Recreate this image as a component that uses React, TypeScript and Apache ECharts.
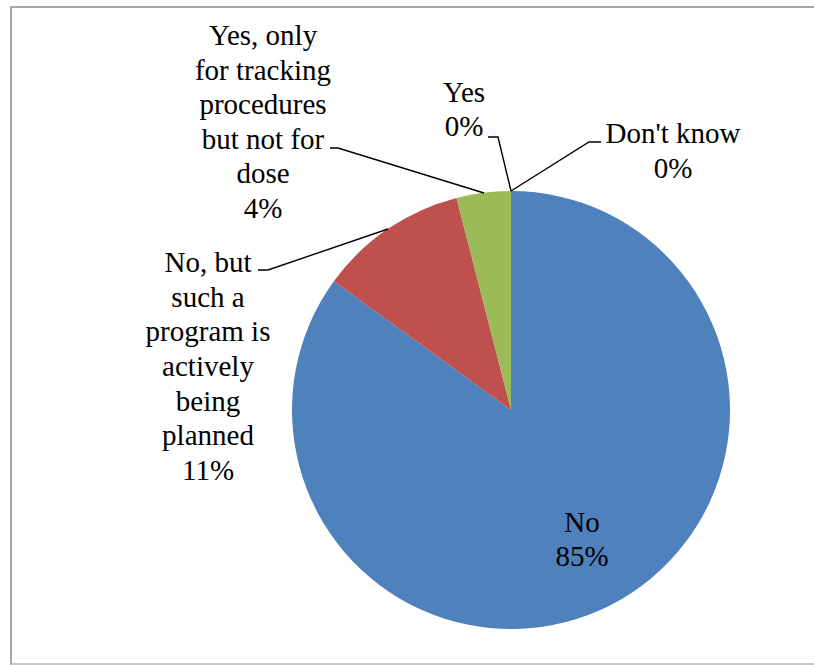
import React, { useEffect, useRef } from "react";
import * as echarts from "echarts";

const categories = [
  "Don't know",
  "No",
  "No, but such a program is actively being planned",
  "Yes, only for tracking procedures but not for dose",
  "Yes",
];
const wrappedNames = [
  ["Don't know"],
  ["No"],
  ["No, but", "such a", "program is", "actively", "being", "planned"],
  ["Yes, only", "for tracking", "procedures", "but not for", "dose"],
  ["Yes"],
];
const values = [0, 85, 11, 4, 0];
const colors = ["#F79646", "#4F81BD", "#C0504D", "#9BBB59", "#8064A2"];

// label block centers and leader lines (layout only)
const labelPos: [number, number][] = [
  [673, 150.5],
  [582, 539],
  [208, 366],
  [263, 121.5],
  [464, 109],
];
const leaderLines: (number[][] | null)[] = [
  [[511, 191], [589, 142], [601, 142]],
  null,
  [[388, 229], [268, 270], [258, 270]],
  [[484, 193], [338, 148], [330, 148]],
  [[511, 191], [498, 137], [488, 137]],
];

const FONT = "Liberation Serif";
const FONT_SIZE = 29;
const LINE_H = 34.6;

export default function App() {
  const ref = useRef<HTMLDivElement>(null);
  useEffect(() => {
    if (!ref.current) return;
    const chart = echarts.init(ref.current, null, { renderer: "svg" });
    const total = values.reduce((a, b) => a + b, 0);
    const graphics: any[] = [];
    categories.forEach((_, i) => {
      const lines = wrappedNames[i].concat([Math.round((values[i] / total) * 100) + "%"]);
      const [cx, cy] = labelPos[i];
      lines.forEach((l, j) => {
        graphics.push({
          type: "text",
          x: cx,
          y: cy + (j - (lines.length - 1) / 2) * LINE_H,
          z: 10,
          silent: true,
          style: {
            text: l,
            fontFamily: FONT,
            fontSize: FONT_SIZE,
            fill: "#000",
            align: "center",
            verticalAlign: "middle",
          },
        });
      });
      const pts = leaderLines[i];
      if (pts) {
        graphics.push({
          type: "polyline",
          z: 10,
          silent: true,
          shape: { points: pts },
          style: { stroke: "#000", lineWidth: 1.4, fill: "none" },
        });
      }
    });
    chart.setOption({
      animation: false,
      graphic: graphics,
      series: [
        {
          type: "pie",
          center: [511, 410],
          radius: 219,
          startAngle: 90,
          clockwise: true,
          label: { show: false },
          labelLine: { show: false },
          data: categories.map((c, i) => ({
            name: c,
            value: values[i],
            itemStyle: { color: colors[i] },
          })),
        },
      ],
    });
    return () => chart.dispose();
  }, []);
  return (
    <div style={{ position: "absolute", left: 0, top: 0, width: 814, height: 665, overflow: "hidden" }}>
      <div
        style={{
          position: "absolute",
          left: 10,
          top: 6,
          width: 804,
          height: 659,
          boxSizing: "border-box",
          borderTop: "2px solid #a6a6a6",
          borderLeft: "2px solid #a6a6a6",
          borderBottom: "2px solid #c8c8c8",
        }}
      />
      <div
        ref={ref}
        style={{ position: "absolute", left: 0, top: 0, width: 814, height: 665 }}
      />
    </div>
  );
}
